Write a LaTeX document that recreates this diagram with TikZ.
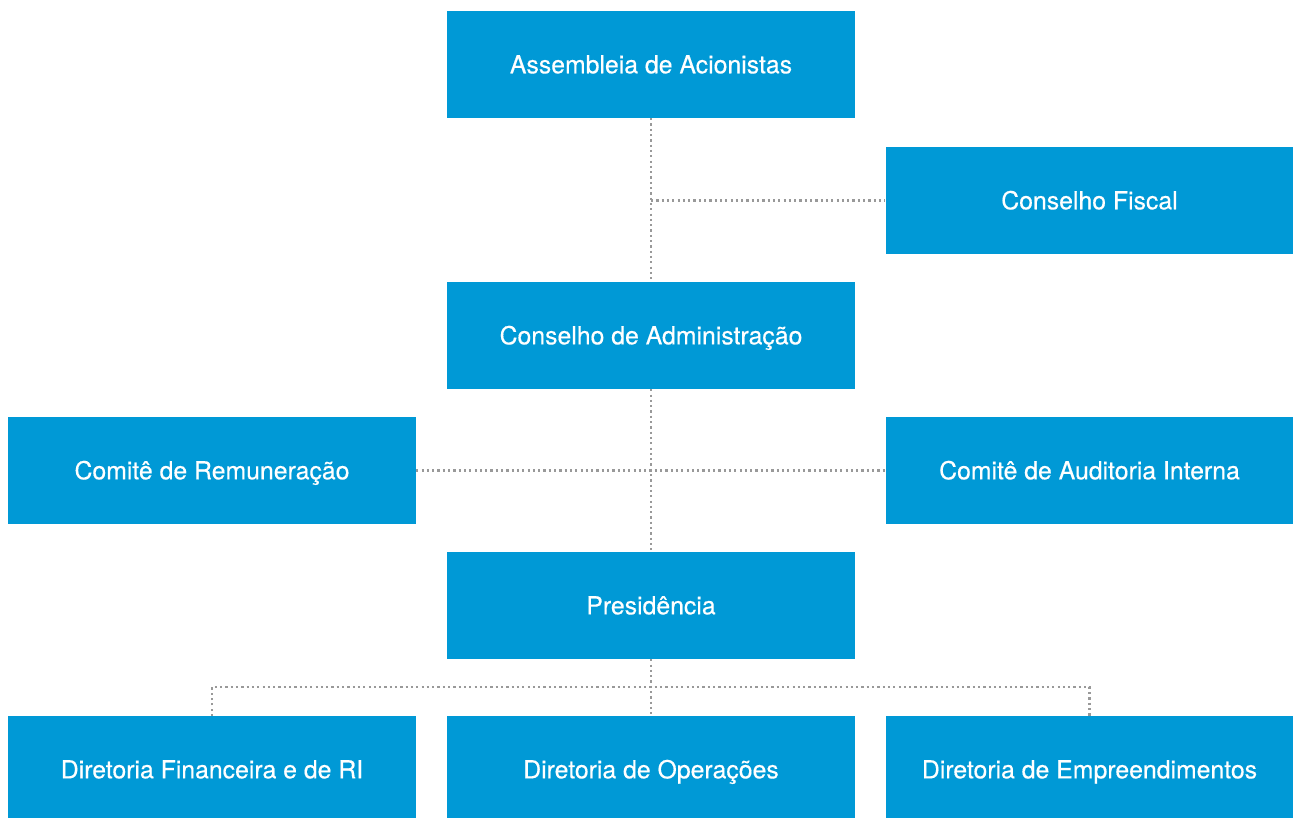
\documentclass[tikz,border=0pt]{standalone}
\usepackage{fontspec}
\setmainfont{TeX Gyre Heros}[FakeBold=0.4]
\definecolor{boxblue}{HTML}{0099D6}
\definecolor{dotgrey}{HTML}{999999}
\begin{document}
\begin{tikzpicture}[x=1pt,y=-1pt,
  orgbox/.style={fill=boxblue, draw=none, text=white, minimum width=408pt, minimum height=107pt, inner sep=0pt, text height=17.6pt, text depth=0pt, font=\fontsize{24.8}{29}\selectfont},
  link/.style={draw=dotgrey, line width=2.2pt, dash pattern=on 2.2pt off 3.1pt}]
\useasboundingbox (0,0) rectangle (1293,818);
\node[orgbox] (ag) at (651,64.5) {Assembleia de Acionistas};
\node[orgbox] (cf) at (1089.5,200.5) {Conselho Fiscal};
\node[orgbox] (ca) at (651,335.5) {Conselho de Administração};
\node[orgbox] (cr) at (212,470.5) {Comitê de Remuneração};
\node[orgbox] (cai) at (1089.5,470.5) {Comitê de Auditoria Interna};
\node[orgbox] (pr) at (651,605.5) {Presidência};
\node[orgbox] (df) at (212,769.5) {Diretoria Financeira e de RI};
\node[orgbox] (do) at (651,769.5) {Diretoria de Operações};
\node[orgbox] (de) at (1089.5,769.5) {Diretoria de Empreendimentos};
\coordinate (j1) at (651,200.5);
\coordinate (j3) at (651,687);
\coordinate (dfN) at (212,716);
\coordinate (deN) at (1089.5,716);
\draw[link] (ag.south) -- (ca.north);
\draw[link] (j1) -- (cf.west);
\draw[link] (ca.south) -- (pr.north);
\draw[link] (cr.east) -- (cai.west);
\draw[link] (pr.south) -- (do.north);
\draw[link] (dfN) |- (j3) -| (deN);
\end{tikzpicture}
\end{document}
